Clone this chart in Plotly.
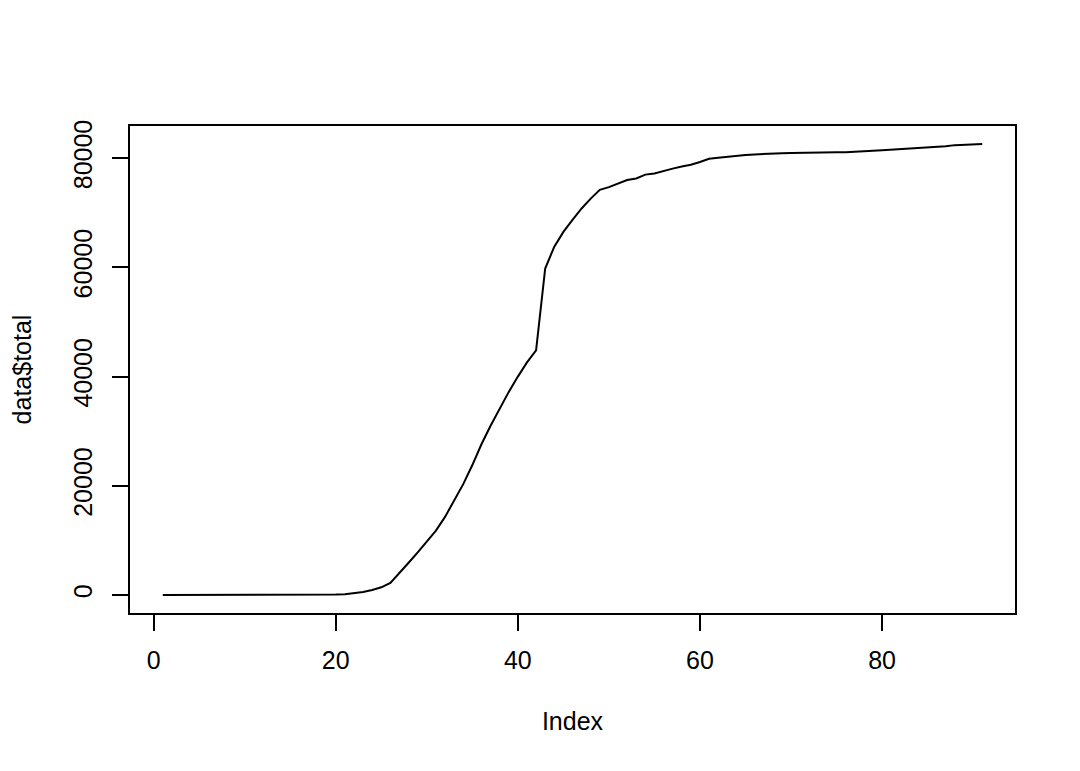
import plotly.graph_objects as go

# valores (série acumulada, índice 1..91)
indice = list(range(1, 92))
total = [
    0, 0, 0, 0, 0, 0, 0, 0, 0, 0,
    0, 0, 0, 0, 0, 0, 0, 10, 40, 80,
    150, 300, 550, 900, 1400, 2200, 4000, 5900, 7800, 9800,
    11800, 14300, 17200, 20300, 23800, 27600, 31000, 34200, 37200, 40000,
    42600, 44800, 59800, 63800, 66500, 68700, 70800, 72600, 74200, 74700,
    75300, 76000, 76300, 77000, 77200, 77700, 78100, 78500, 78800, 79300,
    79900, 80100, 80300, 80400, 80600, 80700, 80800, 80850, 80900, 80950,
    81000, 81050, 81070, 81100, 81100, 81100, 81150, 81250, 81350, 81450,
    81550, 81650, 81750, 81850, 81950, 82050, 82200, 82400, 82500, 82550,
    82600,
]
x_ticks = [0, 20, 40, 60, 80]
y_ticks = [0, 20000, 40000, 60000, 80000]

# faixa dos eixos no estilo do R (4% de folga em cada lado)
def faixa(vals):
    lo, hi = min(vals), max(vals)
    pad = (hi - lo) * 0.04
    return [lo - pad, hi + pad]

fonte = dict(family="Liberation Sans, Arial, sans-serif", size=25, color="black")

fig = go.Figure()
fig.add_trace(go.Scatter(
    x=indice, y=total, mode="lines",
    line=dict(color="black", width=2),
    showlegend=False, hoverinfo="skip"
))

eixo = dict(
    showgrid=False, zeroline=False,
    showline=True, mirror=True, linecolor="black", linewidth=1.5,
    ticks="outside", ticklen=16, tickwidth=1.5, tickcolor="black",
    tickfont=fonte, tickmode="array",
)

# a página tem 8 px de margem no body, por isso a figura é um pouco menor
fig.update_layout(
    width=1064, height=755,
    margin=dict(l=119, r=57, t=118, b=150),
    paper_bgcolor="white", plot_bgcolor="white",
    font=fonte,
    xaxis=dict(
        eixo, range=faixa(indice), tickvals=x_ticks,
        ticktext=[str(v) for v in x_ticks], ticklabelstandoff=8,
        title=dict(text="Index", font=fonte, standoff=40),
    ),
    yaxis=dict(
        eixo, range=faixa(total), tickvals=y_ticks,
        ticktext=[str(v) for v in y_ticks], tickangle=-90, ticklabelstandoff=10,
        title=dict(text="data$total", font=fonte, standoff=32),
    ),
)

fig.write_html("out.html")
